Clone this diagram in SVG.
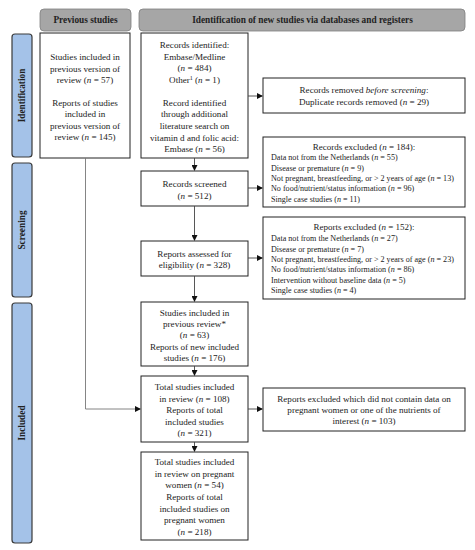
<svg xmlns="http://www.w3.org/2000/svg" width="475" height="550" viewBox="0 0 475 550">
<defs>
<marker id="ah" markerWidth="6" markerHeight="6" refX="5" refY="3" orient="auto" markerUnits="userSpaceOnUse">
<path d="M0,0 L6,3 L0,6 Z" fill="#111"/>
</marker>
<style>
.hdr{fill:#a6a6a6;stroke:#7f7f7f;stroke-width:0.8}
.side{fill:#a4c2e8;stroke:#3a3a3a;stroke-width:1.2}
.box{fill:#fff;stroke:#222;stroke-width:1}
text{font-family:"Liberation Serif","DejaVu Serif",serif;fill:#222}
.t{font-size:9.1px;text-anchor:middle}
.s{font-size:8.1px}
.st{font-size:9px;text-anchor:middle}
.h{font-size:9.3px;font-weight:bold;text-anchor:middle}
.conn{stroke:#444;stroke-width:0.9;fill:none}
.gl{stroke:#777;stroke-width:0.9;fill:none}
</style>
</defs>
<rect width="475" height="550" fill="#fff"/>

<g id="hdr-prev"><rect class="hdr" x="40" y="9" width="91" height="22" rx="4"/><text class="h" x="85.5" y="23.3">Previous studies</text></g>
<g id="hdr-new"><rect class="hdr" x="139" y="9" width="326" height="22" rx="4"/><text class="h" x="302.5" y="23.3">Identification of new studies via databases and registers</text></g>

<g id="side-ident"><rect class="side" x="12" y="34" width="20" height="123" rx="3"/><text class="h" transform="translate(25.3,95.5) rotate(-90)">Identification</text></g>
<g id="side-screen"><rect class="side" x="12" y="163" width="20" height="134" rx="3"/><text class="h" transform="translate(25.3,230) rotate(-90)">Screening</text></g>
<g id="side-incl"><rect class="side" x="12" y="303" width="20" height="240" rx="3"/><text class="h" transform="translate(25.3,423) rotate(-90)">Included</text></g>

<g id="prev-box"><rect class="box" x="40" y="33" width="90" height="125"/>
<text class="t"><tspan x="85" y="60.2">Studies included in</tspan><tspan x="85" y="71.7">previous version of</tspan><tspan x="85" y="83.2">review (<tspan font-style="italic">n</tspan> = 57)</tspan><tspan x="85" y="105.7">Reports of studies</tspan><tspan x="85" y="117.2">included in</tspan><tspan x="85" y="128.7">previous version of</tspan><tspan x="85" y="140.2">review (<tspan font-style="italic">n</tspan> = 145)</tspan></text></g>

<g id="records-identified"><rect class="box" x="141" y="33" width="107" height="125"/>
<text class="t"><tspan x="194.5" y="47.5">Records identified:</tspan><tspan x="194.5" y="59.7">Embase/Medline</tspan><tspan x="194.5" y="71.4">(<tspan font-style="italic">n</tspan> = 484)</tspan><tspan x="194.5" y="83.2">Other<tspan font-size="6" dy="-3">1</tspan><tspan dy="3"> (</tspan><tspan font-style="italic">n</tspan> = 1)</tspan><tspan x="194.5" y="105.5">Record identified</tspan><tspan x="194.5" y="117.2">through additional</tspan><tspan x="194.5" y="128.9">literature search on</tspan><tspan x="194.5" y="140.5">vitamin d and folic acid:</tspan><tspan x="194.5" y="152">Embase (<tspan font-style="italic">n</tspan> = 56)</tspan></text></g>

<g id="records-removed"><rect class="box" x="263" y="78" width="202" height="35"/>
<text class="t"><tspan x="364" y="92.5">Records removed <tspan font-style="italic">before screening</tspan>:</tspan><tspan x="364" y="104.8">Duplicate records removed (<tspan font-style="italic">n</tspan> = 29)</tspan></text></g>

<g id="records-screened"><rect class="box" x="141" y="171" width="107" height="35"/>
<text class="t"><tspan x="194.5" y="187.2">Records screened</tspan><tspan x="194.5" y="198.7">(<tspan font-style="italic">n</tspan> = 512)</tspan></text></g>

<g id="records-excluded"><rect class="box" x="263" y="137" width="202" height="70"/>
<text class="st" x="364" y="150.2">Records excluded (<tspan font-style="italic">n</tspan> = 184):</text>
<text class="s"><tspan x="271" y="160.3">Data not from the Netherlands (<tspan font-style="italic">n</tspan> = 55)</tspan><tspan x="271" y="170.6">Disease or premature (<tspan font-style="italic">n</tspan> = 9)</tspan><tspan x="271" y="180.9">Not pregnant, breastfeeding, or &gt; 2 years of age (<tspan font-style="italic">n</tspan> = 13)</tspan><tspan x="271" y="191.2">No food/nutrient/status information (<tspan font-style="italic">n</tspan> = 96)</tspan><tspan x="271" y="201.5">Single case studies (<tspan font-style="italic">n</tspan> = 11)</tspan></text></g>

<g id="reports-assessed"><rect class="box" x="141" y="241" width="107" height="35"/>
<text class="t"><tspan x="194.5" y="256.5">Reports assessed for</tspan><tspan x="194.5" y="268.3">eligibility (<tspan font-style="italic">n</tspan> = 328)</tspan></text></g>

<g id="reports-excluded"><rect class="box" x="263" y="217" width="202" height="82"/>
<text class="st" x="364" y="230.3">Reports excluded (<tspan font-style="italic">n</tspan> = 152):</text>
<text class="s"><tspan x="271" y="241.3">Data not from the Netherlands (<tspan font-style="italic">n</tspan> = 27)</tspan><tspan x="271" y="251.6">Disease or premature (<tspan font-style="italic">n</tspan> = 7)</tspan><tspan x="271" y="261.9">Not pregnant, breastfeeding, or &gt; 2 years of age (<tspan font-style="italic">n</tspan> = 23)</tspan><tspan x="271" y="272.2">No food/nutrient/status information (<tspan font-style="italic">n</tspan> = 86)</tspan><tspan x="271" y="282.5">Intervention without baseline data (<tspan font-style="italic">n</tspan> = 5)</tspan><tspan x="271" y="292.8">Single case studies (<tspan font-style="italic">n</tspan> = 4)</tspan></text></g>

<g id="studies-included"><rect class="box" x="141" y="302" width="107" height="64"/>
<text class="t"><tspan x="194.5" y="315.5">Studies included in</tspan><tspan x="194.5" y="327.2">previous review*</tspan><tspan x="194.5" y="338.3">(<tspan font-style="italic">n</tspan> = 63)</tspan><tspan x="194.5" y="349.5">Reports of new included</tspan><tspan x="194.5" y="361">studies (<tspan font-style="italic">n</tspan> = 176)</tspan></text></g>

<g id="total-studies"><rect class="box" x="141" y="376" width="107" height="66"/>
<text class="t"><tspan x="194.5" y="390">Total studies included</tspan><tspan x="194.5" y="402">in review (<tspan font-style="italic">n</tspan> = 108)</tspan><tspan x="194.5" y="413.3">Reports of total</tspan><tspan x="194.5" y="425">included studies</tspan><tspan x="194.5" y="436.3">(<tspan font-style="italic">n</tspan> = 321)</tspan></text></g>

<g id="reports-excluded-2"><rect class="box" x="263" y="388" width="202" height="43"/>
<text class="t"><tspan x="364" y="402.2">Reports excluded which did not contain data on</tspan><tspan x="364" y="413.3">pregnant women or one of the nutrients of</tspan><tspan x="364" y="424.3">interest (<tspan font-style="italic">n</tspan> = 103)</tspan></text></g>

<g id="pregnant-studies"><rect class="box" x="141" y="452" width="107" height="88"/>
<text class="t"><tspan x="194.5" y="465.3">Total studies included</tspan><tspan x="194.5" y="476.5">in review on pregnant</tspan><tspan x="194.5" y="488.2">women (<tspan font-style="italic">n</tspan> = 54)</tspan><tspan x="194.5" y="500">Reports of total</tspan><tspan x="194.5" y="511.5">included studies on</tspan><tspan x="194.5" y="523.2">pregnant women</tspan><tspan x="194.5" y="535">(<tspan font-style="italic">n</tspan> = 218)</tspan></text></g>

<g id="connectors">
<line class="conn" x1="194.5" y1="158" x2="194.5" y2="170" marker-end="url(#ah)"/>
<line class="conn" x1="248" y1="96" x2="262" y2="96" marker-end="url(#ah)"/>
<line class="conn" x1="248" y1="188" x2="262" y2="188" marker-end="url(#ah)"/>
<line class="conn" x1="194.5" y1="206" x2="194.5" y2="240" marker-end="url(#ah)"/>
<line class="conn" x1="248" y1="258" x2="262" y2="258" marker-end="url(#ah)"/>
<line class="conn" x1="194.5" y1="276" x2="194.5" y2="301" marker-end="url(#ah)"/>
<line class="conn" x1="194.5" y1="366" x2="194.5" y2="375" marker-end="url(#ah)"/>
<line class="conn" x1="194.5" y1="442" x2="194.5" y2="451" marker-end="url(#ah)"/>
<line class="conn" x1="248" y1="409" x2="262" y2="409" marker-end="url(#ah)"/>
<polyline class="gl" points="85.5,158 85.5,409 140,409" marker-end="url(#ah)"/>
</g>
</svg>
